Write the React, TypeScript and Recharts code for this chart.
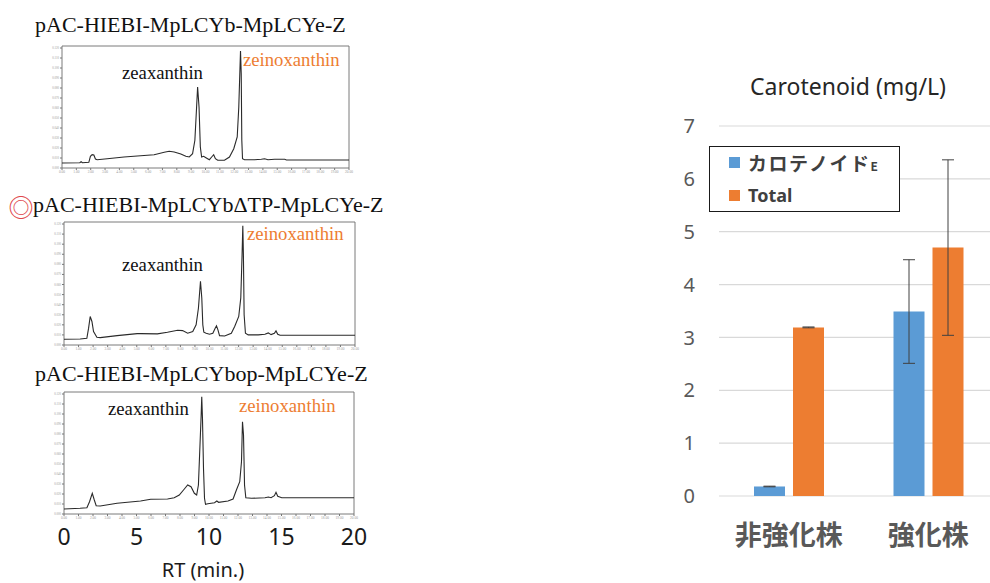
import React from "react";
import {
  Bar,
  BarChart,
  CartesianGrid,
  ErrorBar,
  Legend,
  Line,
  LineChart,
  ReferenceArea,
  XAxis,
  YAxis,
} from "recharts";

// HPLC traces, [retention time (min), detector response (arb.)]
const traceLcyb: [number, number][] = [
  [0, 5], [1.24, 5.3], [1.33, 6.3], [1.42, 5.3], [1.87, 5.7], [1.98, 11.7], [2.1, 13.3], [2.22, 13],
  [2.33, 9], [2.45, 8.3], [3.15, 9.3], [4.32, 11], [5.48, 12.3], [6.42, 13.3], [7.12, 15.7], [7.47, 16.7],
  [7.82, 16], [8.28, 14], [8.63, 11.7], [8.87, 11], [9.1, 14.3], [9.26, 27.7], [9.38, 61], [9.45, 81],
  [9.55, 61], [9.64, 21], [9.73, 11], [9.87, 11.7], [10.03, 10.3], [10.27, 8.3], [10.43, 11], [10.57, 13.3],
  [10.69, 9.3], [10.85, 7.7], [11.32, 7.7], [11.67, 11], [11.97, 19.3], [12.21, 31], [12.32, 61], [12.39, 94.3],
  [12.44, 117], [12.49, 94.3], [12.53, 27.7], [12.58, 9.3], [12.72, 8.3], [13.42, 8.3], [13.89, 8.7], [14.12, 9.3],
  [14.35, 8.3], [14.82, 8.7], [15.52, 8.7], [15.64, 8], [16.69, 8], [20, 8],
];

const traceLcybDtp: [number, number][] = [
  [0, 5.7], [1.11, 6], [1.57, 6.7], [1.69, 16.7], [1.8, 28.3], [1.92, 23.3], [2.03, 13.3], [2.26, 7.7],
  [2.49, 7.3], [3.65, 9.3], [5.03, 11.3], [5.27, 11.3], [6.42, 11], [7.11, 12.7], [7.81, 14.7], [8.15, 14.3],
  [8.5, 11.7], [8.85, 13.3], [9.08, 20], [9.24, 36.7], [9.38, 63.3], [9.47, 46.7], [9.54, 20], [9.61, 12.7],
  [9.77, 11.7], [10.0, 10.7], [10.23, 11.7], [10.39, 16.7], [10.48, 19], [10.58, 15], [10.69, 9.3], [11.04, 9],
  [11.5, 11.7], [11.73, 18.3], [12.01, 28.3], [12.15, 46.7], [12.24, 90], [12.29, 118.3], [12.33, 90], [12.38, 30],
  [12.47, 11.7], [12.66, 10], [13.35, 10], [13.81, 10.7], [14.04, 12], [14.23, 10.3], [14.46, 11.7], [14.57, 14],
  [14.69, 10.7], [14.85, 9.7], [20, 9.7],
];

const traceLcybOp: [number, number][] = [
  [0, 5], [1.11, 5.7], [1.58, 6.3], [1.76, 12.3], [1.95, 20.7], [2.09, 14], [2.22, 8.3], [2.5, 8],
  [3.66, 10.7], [5.28, 13], [5.98, 14.7], [7.14, 15], [7.6, 16.3], [7.95, 19], [8.3, 25], [8.53, 29],
  [8.76, 27.3], [8.99, 20.7], [9.15, 19], [9.27, 29], [9.36, 62.3], [9.46, 99], [9.5, 117.3], [9.55, 95.7],
  [9.62, 45.7], [9.69, 15.7], [9.76, 9.7], [9.92, 10.3], [10.38, 11.3], [10.54, 13], [10.66, 11.7], [11.31, 13],
  [11.66, 15], [11.89, 24], [12.12, 32.3], [12.24, 52.3], [12.31, 92.3], [12.38, 79], [12.45, 29], [12.54, 16.3],
  [12.93, 15.7], [13.86, 16.3], [14.09, 17], [14.28, 16.3], [14.51, 18.3], [14.62, 21.7], [14.74, 17.7], [15.02, 16.3],
  [20, 16.3],
];

const rtTicksSmall = [0, 1, 2, 3, 4, 5, 6, 7, 8, 9, 10, 11, 12, 13, 14, 15, 16, 17, 18, 19, 20];
const rtTicksBig = [0, 5, 10, 15, 20];
const auTicks = [0, 10, 20, 30, 40, 50, 60, 70, 80, 90, 100, 110, 120];

// bar chart
const strains = ["非強化株", "強化株"];
const caroE = [0.18, 3.49];
const caroEErr = [0.006, 0.98];
const caroTotal = [3.19, 4.7];
const caroTotalErr = [0.008, 1.66];
const mgTicks = [0, 1, 2, 3, 4, 5, 6, 7];
const legendOrder = ["カロテノイドE", "Total"];

const BLUE = "#5B9BD5";
const ORANGE = "#ED7D31";
const SERIF = "'Liberation Serif', 'Times New Roman', serif";
const SANS = "'Noto Sans', 'Liberation Sans', sans-serif";
const CJK = "'Noto Sans CJK JP', 'Noto Sans', sans-serif";

const barData = strains.map((name, i) => ({
  name,
  caroE: caroE[i],
  caroEErr: caroEErr[i],
  total: caroTotal[i],
  totalErr: caroTotalErr[i],
}));

function Chromatogram({
  trace,
  left,
  top,
  width,
  height,
  bigAxis,
}: {
  trace: [number, number][];
  left: number;
  top: number;
  width: number;
  height: number;
  bigAxis?: boolean;
}) {
  const data = trace.map(([t, v]) => ({ t, v }));
  const rightPad = bigAxis ? 16 : 8;
  return (
    <div style={{ position: "absolute", left, top }}>
      <LineChart width={width + rightPad} height={height} data={data} margin={{ top: 2, right: rightPad, left: 0, bottom: 0 }}>
        <XAxis
          dataKey="t"
          type="number"
          domain={[0, 20]}
          ticks={rtTicksSmall}
          interval={0}
          tickFormatter={(v) => v.toFixed(2)}
          tick={{ fontSize: 3.5, fill: "#999" }}
          tickSize={2}
          tickMargin={1}
          height={8}
          axisLine={false}
          stroke="#777"
        />
        {bigAxis && (
          <XAxis
            xAxisId="big"
            dataKey="t"
            type="number"
            domain={[0, 20]}
            ticks={rtTicksBig}
            interval={0}
            tick={{ fontSize: 23, fill: "#1a1a1a", fontFamily: SANS }}
            tickSize={0}
            tickMargin={7}
            height={40}
            axisLine={false}
            tickLine={false}
          />
        )}
        <YAxis
          type="number"
          domain={[0, 122]}
          ticks={auTicks}
          interval={0}
          tickFormatter={(v) => (v / 1000).toFixed(3)}
          tick={{ fontSize: 3, fill: "#999" }}
          tickSize={2}
          tickMargin={1}
          width={12}
          axisLine={false}
          stroke="#777"
        />
        <ReferenceArea x1={0} x2={20} y1={0} y2={122} fill="#fff" fillOpacity={0} stroke="#6b6b6b" strokeWidth={0.9} />
        <Line
          dataKey="v"
          type="linear"
          stroke="#2a2a2a"
          strokeWidth={1.1}
          dot={false}
          isAnimationActive={false}
        />
      </LineChart>
    </div>
  );
}

function LegendBox({ payload }: any) {
  const items = [...(payload || [])].sort(
    (a: any, b: any) => legendOrder.indexOf(a.value) - legendOrder.indexOf(b.value)
  );
  return (
    <div
      style={{
        width: 191,
        height: 66,
        boxSizing: "border-box",
        border: "1.5px solid #1a1a1a",
        background: "#fff",
        fontFamily: CJK,
        fontWeight: 700,
        color: "#404040",
        position: "relative",
      }}
    >
      {items.map((p: any, i: number) => {
        const label: string = p.value;
        const small = label.endsWith("E");
        return (
          <div key={label} style={{ position: "absolute", left: 19, top: i === 0 ? 3 : 36, height: 24, display: "flex", alignItems: "center" }}>
            <span style={{ width: 11, height: 11, background: p.color, display: "inline-block", marginRight: 8 }} />
            {small ? (
              <span style={{ fontSize: 19, letterSpacing: 1.5, whiteSpace: "nowrap" }}>
                {label.slice(0, -1)}
                <span style={{ fontSize: 12, letterSpacing: 0 }}>E</span>
              </span>
            ) : (
              <span style={{ fontSize: 18, fontFamily: SANS }}>{label}</span>
            )}
          </div>
        );
      })}
    </div>
  );
}

export default function App() {
  return (
    <div style={{ position: "fixed", left: 0, top: 0, width: 990, height: 583, overflow: "hidden", background: "#fff" }}>
      <Chromatogram trace={traceLcyb} left={50} top={44} width={299} height={132} />
      <Chromatogram trace={traceLcybDtp} left={52} top={220} width={303} height={133} />
      <Chromatogram trace={traceLcybOp} left={52} top={390} width={302} height={172} bigAxis />

      <div style={{ position: "absolute", left: 660, top: 60 }}>
        <BarChart
          width={340}
          height={496}
          data={barData}
          margin={{ top: 66, right: 2, left: 0, bottom: 0 }}
          barGap={8}
          barSize={31}
        >
          <CartesianGrid vertical={false} stroke="#d9d9d9" strokeWidth={1.2} />
          <XAxis
            dataKey="name"
            axisLine={false}
            tickLine={false}
            tickSize={0}
            tickMargin={30}
            height={60}
            tick={{ fontSize: 27, fill: "#595959", fontFamily: CJK, fontWeight: 700 }}
          />
          <YAxis
            type="number"
            domain={[0, 7]}
            ticks={mgTicks}
            interval={0}
            axisLine={false}
            tickLine={false}
            tickSize={0}
            tickMargin={24}
            width={59}
            tick={{ fontSize: 20, fill: "#595959", fontFamily: SANS }}
          />
          <Legend
            layout="vertical"
            align="center"
            verticalAlign="middle"
            content={<LegendBox />}
            wrapperStyle={{ position: "absolute", left: 49, top: 86, width: 191, height: 66 }}
          />
          <Bar dataKey="caroE" name="カロテノイドE" fill={BLUE} isAnimationActive={false}>
            <ErrorBar dataKey="caroEErr" width={6} stroke="#404040" strokeWidth={1} />
          </Bar>
          <Bar dataKey="total" name="Total" fill={ORANGE} isAnimationActive={false}>
            <ErrorBar dataKey="totalErr" width={6} stroke="#404040" strokeWidth={1} />
          </Bar>
        </BarChart>
      </div>

      <svg width={990} height={583} style={{ position: "absolute", left: 0, top: 0, pointerEvents: "none" }}>
        <g fontFamily={SERIF} fontSize={22} fill="#111">
          <text x={35} y={32}>pAC-HIEBI-MpLCYb-MpLCYe-Z</text>
          <text x={33} y={212}>pAC-HIEBI-MpLCYbΔTP-MpLCYe-Z</text>
          <text x={35} y={381}>pAC-HIEBI-MpLCYbop-MpLCYe-Z</text>
        </g>
        <text x={21} y={217} textAnchor="middle" fontFamily={CJK} fontSize={25} fill="#E0474C">◎</text>
        <g fontFamily={SERIF} fontSize={18.7}>
          <text x={122} y={79} fill="#111">zeaxanthin</text>
          <text x={243} y={66} fill={ORANGE}>zeinoxanthin</text>
          <text x={122} y={271} fill="#111">zeaxanthin</text>
          <text x={247} y={240} fill={ORANGE}>zeinoxanthin</text>
          <text x={108} y={415} fill="#111">zeaxanthin</text>
          <text x={239} y={412} fill={ORANGE}>zeinoxanthin</text>
        </g>
        <text x={203} y={577} textAnchor="middle" fontFamily={SANS} fontSize={20} fill="#1a1a1a">RT (min.)</text>
        <text x={848} y={95} textAnchor="middle" fontFamily={SANS} fontSize={23} fill="#262626">Carotenoid (mg/L)</text>
      </svg>
    </div>
  );
}
